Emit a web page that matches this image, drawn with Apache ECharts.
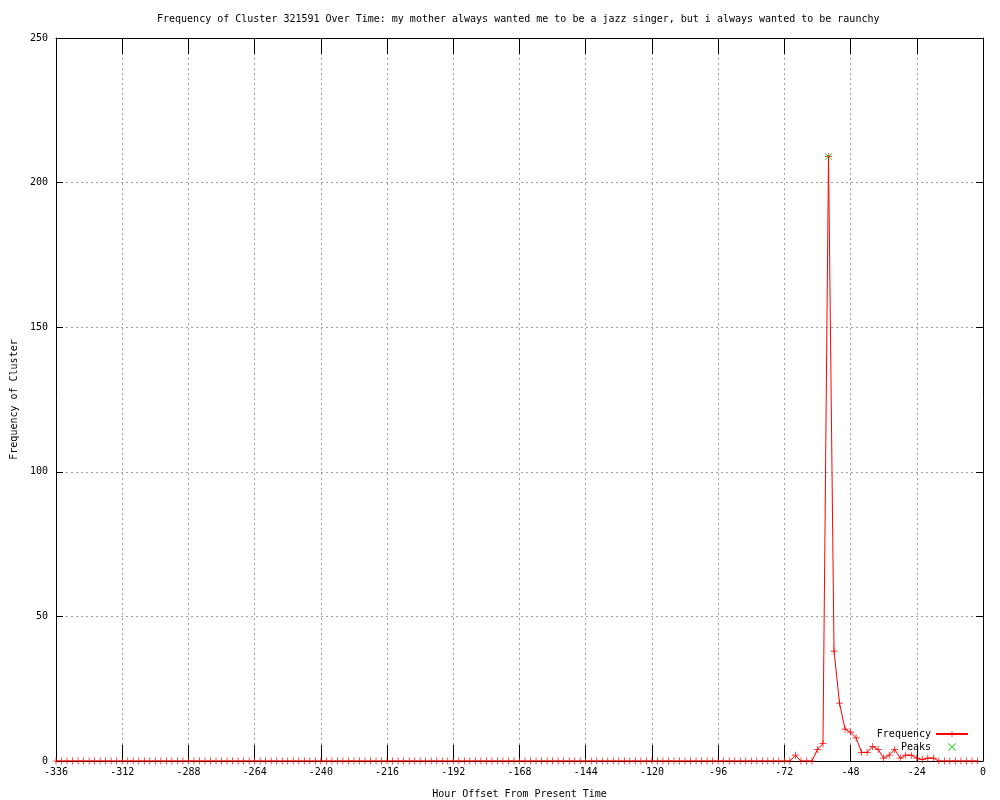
<!DOCTYPE html>
<html>
<head>
<meta charset="utf-8">
<script src="https://cdn.jsdelivr.net/npm/echarts@6/dist/echarts.min.js"></script>
<style>html,body{margin:0;padding:0;background:#fff}#c{width:1000px;height:800px}</style>
</head>
<body>
<div id="c"></div>
<script>
const titleText = "Frequency of Cluster 321591 Over Time: my mother always wanted me to be a jazz singer, but i always wanted to be raunchy";
const xName = "Hour Offset From Present Time";
const yName = "Frequency of Cluster";

const hours = [
  -336,-334,-332,-330,-328,-326,-324,-322,-320,-318,-316,-314,-312,-310,-308,-306,-304,-302,-300,-298,
  -296,-294,-292,-290,-288,-286,-284,-282,-280,-278,-276,-274,-272,-270,-268,-266,-264,-262,-260,-258,
  -256,-254,-252,-250,-248,-246,-244,-242,-240,-238,-236,-234,-232,-230,-228,-226,-224,-222,-220,-218,
  -216,-214,-212,-210,-208,-206,-204,-202,-200,-198,-196,-194,-192,-190,-188,-186,-184,-182,-180,-178,
  -176,-174,-172,-170,-168,-166,-164,-162,-160,-158,-156,-154,-152,-150,-148,-146,-144,-142,-140,-138,
  -136,-134,-132,-130,-128,-126,-124,-122,-120,-118,-116,-114,-112,-110,-108,-106,-104,-102,-100,-98,
  -96,-94,-92,-90,-88,-86,-84,-82,-80,-78,-76,-74,-72,-70,-68,-66,-64,-62,-60,-58,
  -56,-54,-52,-50,-48,-46,-44,-42,-40,-38,-36,-34,-32,-30,-28,-26,-24,-22,-20,-18,
  -16,-14,-12,-10,-8,-6,-4,-2
];
const frequency = [
  0,0,0,0,0,0,0,0,0,0,0,0,0,0,0,0,0,0,0,0,
  0,0,0,0,0,0,0,0,0,0,0,0,0,0,0,0,0,0,0,0,
  0,0,0,0,0,0,0,0,0,0,0,0,0,0,0,0,0,0,0,0,
  0,0,0,0,0,0,0,0,0,0,0,0,0,0,0,0,0,0,0,0,
  0,0,0,0,0,0,0,0,0,0,0,0,0,0,0,0,0,0,0,0,
  0,0,0,0,0,0,0,0,0,0,0,0,0,0,0,0,0,0,0,0,
  0,0,0,0,0,0,0,0,0,0,0,0,0,0,2,0,0,0,4,6,
  209,38,20,11,10,8,3,3,5,4,1,2,4,1,2,2,1,0.5,1,1,
  0,0,0,0,0,0,0,0
];
const peakHours = [-56];
const peakValues = [209];
const xTicks = { min: -336, max: 0, interval: 24 };
const yTicks = { min: 0, max: 250, interval: 50 };

const FONT = "DejaVu Sans Mono";
const plusPath = 'path://M0,4.5 L10,4.5 L10,5.5 L0,5.5 Z M4.5,0 L5.5,0 L5.5,10 L4.5,10 Z';
const crossPath = 'path://M0,0.8 L0.8,0 L10,9.2 L9.2,10 Z M9.2,0 L10,0.8 L0.8,10 L0,9.2 Z';

const chart = echarts.init(document.getElementById('c'), null, { renderer: 'canvas' });

const gridLine = { show: true, lineStyle: { color: '#a0a0a0', type: [2, 3], width: 1 } };
const axLine = { show: true, onZero: false, lineStyle: { color: '#000', width: 1 } };

chart.setOption({
  animation: false,
  backgroundColor: '#fff',
  textStyle: { fontFamily: FONT },
  title: {
    text: titleText,
    left: 152, top: 9,
    textStyle: { fontFamily: FONT, fontSize: 10, fontWeight: 'normal', color: '#000' }
  },
  grid: { left: 56, right: 17, top: 38, bottom: 39, containLabel: false, outerBoundsMode: 'none' },
  legend: {
    right: 26, top: 724, orient: 'vertical', align: 'right',
    itemWidth: 32, itemHeight: 8, itemGap: 3,
    textStyle: { fontFamily: FONT, fontSize: 10, color: '#000' },
    data: ['Frequency', 'Peaks']
  },
  xAxis: [
    {
      type: 'value', position: 'bottom',
      min: xTicks.min, max: xTicks.max, interval: xTicks.interval,
      name: xName, nameLocation: 'middle', nameGap: 28,
      nameTextStyle: { fontFamily: FONT, fontSize: 10, color: '#000' },
      axisLine: axLine,
      axisTick: { show: true, inside: true, length: 16, lineStyle: { color: '#000' } },
      axisLabel: { fontFamily: FONT, fontSize: 10, color: '#000', margin: 6 },
      splitLine: gridLine
    },
    {
      type: 'value', position: 'top',
      min: xTicks.min, max: xTicks.max, interval: xTicks.interval,
      axisLine: axLine,
      axisTick: { show: true, inside: true, length: 16, lineStyle: { color: '#000' } },
      axisLabel: { show: false },
      splitLine: { show: false }
    }
  ],
  yAxis: [
    {
      type: 'value', position: 'left',
      min: yTicks.min, max: yTicks.max, interval: yTicks.interval,
      name: yName, nameLocation: 'middle', nameGap: 37, nameRotate: 90,
      nameTextStyle: { fontFamily: FONT, fontSize: 10, color: '#000' },
      axisLine: axLine,
      axisTick: { show: true, inside: true, length: 7, lineStyle: { color: '#000' } },
      axisLabel: { fontFamily: FONT, fontSize: 10, color: '#000', margin: 8 },
      splitLine: gridLine
    },
    {
      type: 'value', position: 'right',
      min: yTicks.min, max: yTicks.max, interval: yTicks.interval,
      axisLine: axLine,
      axisTick: { show: true, inside: true, length: 7, lineStyle: { color: '#000' } },
      axisLabel: { show: false },
      splitLine: { show: false }
    }
  ],
  series: [
    {
      name: 'Frequency', type: 'line',
      data: hours.map((h, i) => [h, frequency[i]]),
      symbol: plusPath, symbolSize: 7, showSymbol: true, showAllSymbol: true,
      lineStyle: { color: '#ff0000', width: 1 },
      itemStyle: { color: '#ff0000' },
      z: 3
    },
    {
      name: 'Peaks', type: 'scatter',
      data: peakHours.map((h, i) => [h, peakValues[i]]),
      symbol: crossPath, symbolSize: 7,
      itemStyle: { color: '#00c000' },
      z: 4
    }
  ]
});
</script>
</body>
</html>
